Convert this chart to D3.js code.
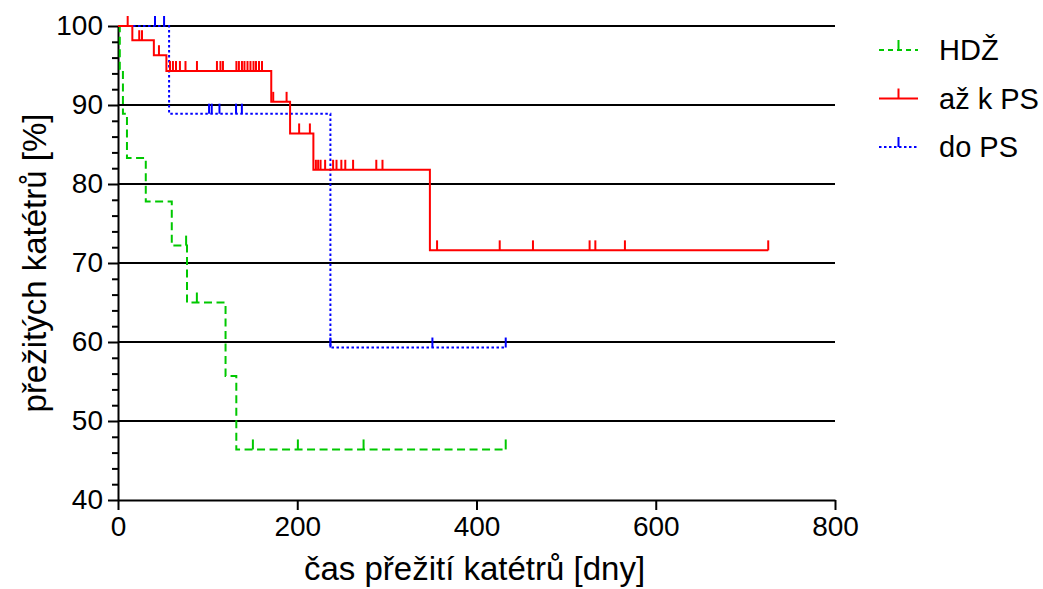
<!DOCTYPE html>
<html>
<head>
<meta charset="utf-8">
<script src="https://cdn.jsdelivr.net/npm/d3@7"></script>
<style>
  html, body { margin: 0; padding: 0; background: #fff; }
  svg { display: block; font-family: "Liberation Sans", Arial, sans-serif; }
</style>
</head>
<body>
<svg id="chart" width="1043" height="589"></svg>
<script>
// ---- data ----
const seriesNames = ["HDŽ", "až k PS", "do PS"];

// HDŽ
const hdzTimes = [0, 2, 5.5, 10, 31, 60, 77, 120, 132, 432.6];
const hdzSurv  = [100, 94.4, 88.9, 83.3, 77.8, 72.2, 65.0, 55.7, 46.4, 46.4];
const hdzCensored = [76, 88, 150.5, 200.7, 274, 432.6];

// až k PS
const azTimes = [0, 16, 40, 54, 171, 192, 218, 348, 725.5];
const azSurv  = [100, 98.2, 96.3, 94.3, 90.4, 86.4, 81.8, 71.6, 71.6];
const azCensored = [10.8, 23.7, 26.8, 45.7, 58, 61.3, 64.7, 69.1, 75.3, 88.1, 110.4, 114.3, 117.1,
  132.1, 134.9, 138.3, 141.1, 144.5, 147.8, 151.2, 154, 157.3, 160.7, 173.2, 188.1, 202.1, 214.1,
  220.8, 223.3, 226, 231.1, 240, 243.8, 249.2, 253.6, 262.3, 288.2, 295.1, 356, 425.9, 463,
  526.2, 532.6, 565.6, 725.5];

// do PS
const doTimes = [0, 57, 237, 432.6];
const doSurv  = [100, 88.9, 59.3, 59.3];
const doCensored = [41.3, 51.4, 101.6, 104.6, 113.2, 131.7, 138.2, 237, 350.8, 432.6];

const xTicks = [0, 200, 400, 600, 800];
const yTicks = [40, 50, 60, 70, 80, 90, 100];
const yMinorTicks = d3.range(40, 101, 2);
const gridValues = [50, 60, 70, 80, 90, 100];

// ---- layout ----
const svg = d3.select("#chart");
const pL = 118, pR = 835, pT = 26, pB = 500;
const x = d3.scaleLinear().domain([0, 800]).range([pL, pR]);
const y = d3.scaleLinear().domain([40, 100]).range([pB, pT]);
const FONT = 28;
const TITLE_FONT = 33;

// grid
svg.append("g").selectAll("line").data(gridValues).join("line")
  .attr("x1", pL).attr("x2", pR)
  .attr("y1", d => y(d)).attr("y2", d => y(d))
  .attr("stroke", "#000").attr("stroke-width", 2);

// y axis minor ticks
svg.append("g").attr("transform", `translate(${pL},0)`)
  .call(d3.axisLeft(y).tickValues(yMinorTicks.filter(v => v % 10 !== 0)).tickSize(6).tickFormat(""))
  .call(g => g.select(".domain").remove())
  .call(g => g.selectAll("line").attr("stroke", "#000").attr("stroke-width", 2));

// y axis major
svg.append("g").attr("transform", `translate(${pL},0)`)
  .call(d3.axisLeft(y).tickValues(yTicks).tickSize(10).tickPadding(5).tickSizeOuter(0))
  .call(g => g.select(".domain").attr("stroke", "#000").attr("stroke-width", 2))
  .call(g => g.selectAll("line").attr("stroke", "#000").attr("stroke-width", 2))
  .call(g => g.selectAll("text").attr("font-size", FONT).attr("fill", "#000")
    .attr("font-family", "Liberation Sans, Arial, sans-serif"));

// x axis
svg.append("g").attr("transform", `translate(0,${pB})`)
  .call(d3.axisBottom(x).tickValues(xTicks).tickSize(10).tickPadding(6).tickSizeOuter(0))
  .call(g => g.select(".domain").attr("stroke", "#000").attr("stroke-width", 2))
  .call(g => g.selectAll("line").attr("stroke", "#000").attr("stroke-width", 2))
  .call(g => g.selectAll("text").attr("font-size", FONT).attr("fill", "#000")
    .attr("font-family", "Liberation Sans, Arial, sans-serif"));

// axis titles
svg.append("text")
  .attr("x", (pL + pR) / 2 - 2).attr("y", 580)
  .attr("text-anchor", "middle").attr("font-size", TITLE_FONT)
  .text("čas přežití katétrů [dny]");
svg.append("text")
  .attr("transform", `translate(46,${(pT + pB) / 2}) rotate(-90)`)
  .attr("text-anchor", "middle").attr("font-size", TITLE_FONT)
  .text("přežitých katétrů [%]");

// ---- curves ----
const series = [
  { name: seriesNames[2], times: doTimes, surv: doSurv, cens: doCensored, color: "#0000ff", dash: "2.5,2.5" },
  { name: seriesNames[0], times: hdzTimes, surv: hdzSurv, cens: hdzCensored, color: "#00c800", dash: "8,4.5" },
  { name: seriesNames[1], times: azTimes, surv: azSurv, cens: azCensored, color: "#ff0000", dash: null }
];

function levelAt(s, t) {
  let v = s.surv[0];
  for (let i = 0; i < s.times.length; i++) {
    if (s.times[i] <= t) v = s.surv[i]; else break;
  }
  return v;
}

const line = d3.line().x(d => x(d[0])).y(d => y(d[1])).curve(d3.curveStepAfter);
const TICK = 10;

series.forEach(s => {
  const g = svg.append("g");
  g.append("path")
    .datum(s.times.map((t, i) => [t, s.surv[i]]))
    .attr("d", line)
    .attr("fill", "none").attr("stroke", s.color).attr("stroke-width", 2)
    .attr("stroke-dasharray", s.dash);
  g.selectAll("line.cens").data(s.cens).join("line")
    .attr("class", "cens")
    .attr("x1", d => x(d)).attr("x2", d => x(d))
    .attr("y1", d => y(levelAt(s, d))).attr("y2", d => y(levelAt(s, d)) - TICK)
    .attr("stroke", s.color).attr("stroke-width", 2);
});

// ---- legend ----
const legendItems = [
  { name: seriesNames[0], color: "#00c800", dash: "5,4" },
  { name: seriesNames[1], color: "#ff0000", dash: null },
  { name: seriesNames[2], color: "#0000ff", dash: "2.5,2.5" }
];
const lg = svg.append("g");
legendItems.forEach((d, i) => {
  const ry = 50 + i * 48.5;
  lg.append("line").attr("x1", 879).attr("x2", 918).attr("y1", ry).attr("y2", ry)
    .attr("stroke", d.color).attr("stroke-width", 2).attr("stroke-dasharray", d.dash);
  lg.append("line").attr("x1", 898.5).attr("x2", 898.5).attr("y1", ry).attr("y2", ry - 10)
    .attr("stroke", d.color).attr("stroke-width", 2);
  lg.append("text").attr("x", 939).attr("y", ry + 10).attr("font-size", 29).text(d.name);
});
</script>
</body>
</html>
